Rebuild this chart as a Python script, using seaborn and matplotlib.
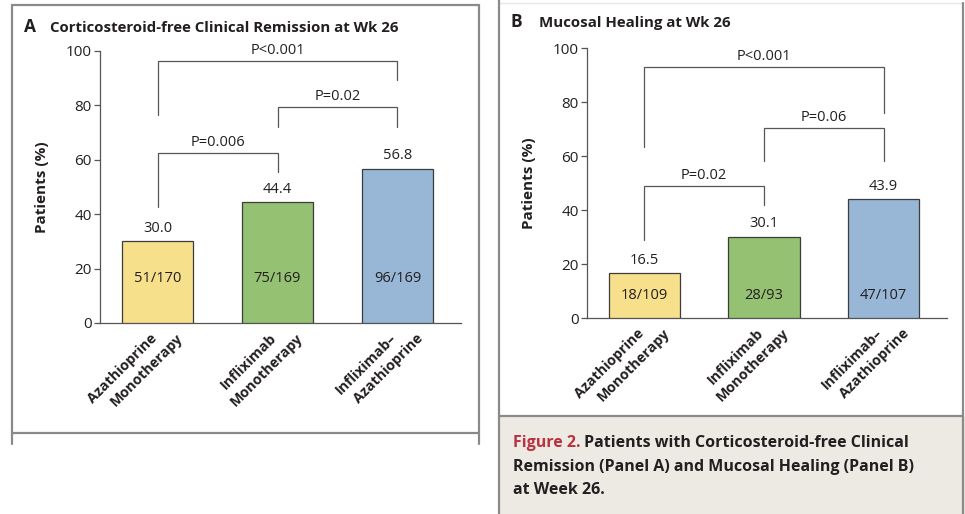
import matplotlib
matplotlib.use("Agg")
import matplotlib.pyplot as plt
import matplotlib.transforms as mtransforms
from matplotlib.lines import Line2D
from matplotlib.patches import Rectangle
from matplotlib.text import Annotation
import seaborn as sns

sns.set_theme(style="white")
plt.rcParams["font.family"] = ["Open Sans", "DejaVu Sans"]

# ---- data -------------------------------------------------------------
categories = ["Azathioprine\nMonotherapy", "Infliximab\nMonotherapy", "Infliximab–\nAzathioprine"]
bar_colors = ["#f6e08c", "#95c172", "#98b7d7"]

remission_pct = [30.0, 44.4, 56.8]
remission_counts = ["51/170", "75/169", "96/169"]
remission_pvalues = ["P<0.001", "P=0.02", "P=0.006"]

healing_pct = [16.5, 30.1, 43.9]
healing_counts = ["18/109", "28/93", "47/107"]
healing_pvalues = ["P<0.001", "P=0.06", "P=0.02"]

# comparison pairs (bar indices) in the same order as the p-values
pairs = [(0, 2), (1, 2), (0, 1)]

W, H = 965, 514
fig = plt.figure(figsize=(W / 100, H / 100), dpi=100)
fig.patch.set_facecolor("white")

TXT = "#231f20"
AXC = "#555555"
FRAME = "#8a8a8a"


def px_rect(x0, y0, x1, y1):
    """pixel box (top-left origin) -> figure fraction rect"""
    return [x0 / W, 1 - y1 / H, (x1 - x0) / W, (y1 - y0) / H]


def fig_line(x0, y0, x1, y1, color=FRAME, lw=1.6):
    fig.add_artist(Line2D([x0 / W, x1 / W], [1 - y0 / H, 1 - y1 / H],
                          transform=fig.transFigure, color=color, lw=lw))


def category_labels(ax):
    """45-degree labels; each line ends on the same height, stepped sideways"""
    ax.set_xticks(range(len(categories)))
    ax.set_xticklabels([])
    base = mtransforms.blended_transform_factory(ax.transData, ax.transAxes)
    line_dx = [-0.03, 0.23]          # inches, per text line
    for i, name in enumerate(categories):
        for k, part in enumerate(name.split("\n")):
            tr = base + mtransforms.ScaledTranslation(line_dx[k], -0.13, fig.dpi_scale_trans)
            ax.text(i, 0, part, transform=tr, rotation=45, rotation_mode="anchor",
                    ha="right", va="center", fontsize=10.3, fontweight="bold",
                    color=TXT, clip_on=False)


def draw_panel(ax, values, counts, pvalues, bracket_geom, count_y):
    sns.barplot(x=categories, y=values, hue=categories, palette=bar_colors,
                saturation=1, width=0.595, edgecolor="#3c3c3c", linewidth=0.9,
                legend=False, ax=ax, zorder=3)
    ax.set_xlim(-0.48, 2.53)
    ax.set_ylim(0, 100)
    ax.set_yticks([0, 20, 40, 60, 80, 100])
    ax.set_facecolor("none")
    for s in ["top", "right"]:
        ax.spines[s].set_visible(False)
    for s in ["left", "bottom"]:
        ax.spines[s].set_color(AXC)
        ax.spines[s].set_linewidth(0.9)
    ax.spines["left"].set_bounds(0, 100)
    ax.tick_params(axis="y", length=4.5, width=0.9, color=AXC, pad=1.5,
                   labelsize=11, labelcolor=TXT, left=True)
    ax.tick_params(axis="x", length=0, pad=0)
    ax.set_ylabel("Patients (%)", fontsize=11, fontweight="bold", color=TXT, labelpad=12)
    ax.set_xlabel("")
    category_labels(ax)

    # value above each bar, counts inside
    for i, (v, c) in enumerate(zip(values, counts)):
        ax.annotate(f"{v:.1f}", (i, v), xytext=(0, 4), textcoords="offset points",
                    ha="center", va="bottom", fontsize=10.5, color=TXT)
        ax.text(i, count_y, c, ha="center", va="center", fontsize=10.5, color=TXT, zorder=4)

    # significance brackets
    for (a, b), p, (top, la, lb) in zip(pairs, pvalues, bracket_geom):
        ax.plot([a, a, b, b], [la, top, top, lb], color=AXC, lw=0.9,
                solid_joinstyle="miter", clip_on=False)
        ax.annotate(p, ((a + b) / 2, top), xytext=(0, 2), textcoords="offset points",
                    ha="center", va="bottom", fontsize=10.5, color=TXT)


# ---- frames -----------------------------------------------------------
# panel A box
fig_line(12, 5, 479, 5)
fig_line(12, 5, 12, 444)
fig_line(479, 5, 479, 444)
fig_line(12, 433, 479, 433)
# panel B box with caption strip
fig.add_artist(Rectangle((498 / W, 0), (965 - 498) / W, 1 - 416 / H,
                         transform=fig.transFigure, facecolor="#ede9e3",
                         edgecolor="none"))
fig_line(499, 3, 963, 3, color="#e6e6e6", lw=1.0)
fig_line(499, 0, 499, 514)
fig_line(963, 3, 963, 514)
fig_line(499, 416, 963, 416)

# ---- panel A ----------------------------------------------------------
axA = fig.add_axes(px_rect(100, 51, 461, 323))
draw_panel(axA, remission_pct, remission_counts, remission_pvalues,
           [(96.3, 76.5, 89.3), (79.4, 72.0, 72.0), (62.5, 42.6, 55.5)], 16.5)
fig.text(24 / W, 1 - 32 / H, "A", fontsize=12.5, fontweight="bold", color=TXT)
fig.text(50 / W, 1 - 32 / H, "Corticosteroid-free Clinical Remission at Wk 26",
         fontsize=10.8, fontweight="bold", color=TXT)

# ---- panel B ----------------------------------------------------------
axB = fig.add_axes(px_rect(587, 48, 947, 318))
draw_panel(axB, healing_pct, healing_counts, healing_pvalues,
           [(93.0, 63.3, 76.0), (70.4, 58.1, 58.1), (48.9, 28.9, 41.9)], 8.5)
fig.text(511 / W, 1 - 27 / H, "B", fontsize=12.5, fontweight="bold", color=TXT)
fig.text(539 / W, 1 - 27 / H, "Mucosal Healing at Wk 26",
         fontsize=10.8, fontweight="bold", color=TXT)

# ---- caption ----------------------------------------------------------
cap_fs = 11.5
t1 = fig.text(513 / W, 1 - 447 / H, "Figure 2.", fontsize=cap_fs,
              fontweight="bold", color="#b8323f")
fig.add_artist(Annotation(" Patients with Corticosteroid-free Clinical",
                          xy=(1, 0), xycoords=t1, va="bottom",
                          fontsize=cap_fs, fontweight="bold", color=TXT))
fig.text(513 / W, 1 - 471 / H, "Remission (Panel A) and Mucosal Healing (Panel B)",
         fontsize=cap_fs, fontweight="bold", color=TXT)
fig.text(513 / W, 1 - 494 / H, "at Week 26.", fontsize=cap_fs,
         fontweight="bold", color=TXT)

fig.savefig("out.png", dpi=100, facecolor="white")
